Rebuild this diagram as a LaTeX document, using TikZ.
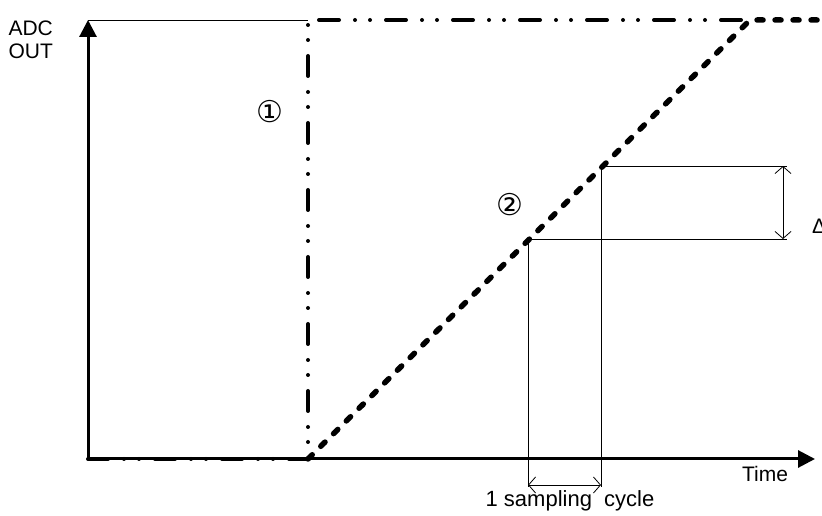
\documentclass[tikz,border=0pt]{standalone}
\usepackage{fontspec}
\setmainfont{Liberation Sans}
\newfontfamily\circfont{DejaVu Sans}
\usetikzlibrary{arrows.meta}
\begin{document}
\begin{tikzpicture}[x=1pt,y=1pt,
  every node/.style={font=\fontsize{21}{24}\selectfont},
  axis/.style={line width=3pt,-{Triangle[length=17pt,width=17pt]}},
  stepline/.style={line width=4pt,line cap=round,
    dash pattern=on 20pt off 16pt on 0pt off 15pt on 0pt off 16pt},
  rampline/.style={line width=5.5pt,line cap=round,dash pattern=on 6pt off 12pt},
  thin/.style={line width=0.8pt},
  dim/.style={line width=0.8pt,{Straight Barb[length=7pt,width=16pt]}-{Straight Barb[length=7pt,width=16pt]}}]
\useasboundingbox (0,0) rectangle (822,516);
% points
\coordinate (o) at (88,57);
\coordinate (ytop) at (88,496);
\coordinate (xend) at (815,57);
\coordinate (t0) at (308,57);
\coordinate (t0top) at (308,496);
\coordinate (full) at (750,496);
\coordinate (rend) at (822,496);
\coordinate (s1) at (528,277);
\coordinate (s2) at (601,350);
% level line and axes
\draw[thin] (ytop) -- (t0top);
\draw[axis] (o) -- (xend);
\draw[axis] (o) -- (ytop);
% signals
\draw[stepline] (o) -- (t0) -- (t0top) -- (full);
\draw[rampline] (t0) -- (full) -- (rend);
% sampling steps
\draw[thin] (s1) -- (787,277);
\draw[thin] (s2) -- (787,350);
\draw[thin] (s1) -- (528,29);
\draw[thin] (s2) -- (601,29);
\draw[dim] (783,350) -- (783,277);
\draw[dim] (528,31) -- (601,31);
% labels
\node[anchor=west] (adc) at (5,488) {ADC};
\node[anchor=west] (out) at (5,465) {OUT};
\node (one) at (270,404) {\circfont\fontsize{30}{32}\selectfont ①};
\node (two) at (510,311) {\circfont\fontsize{30}{32}\selectfont ②};
\node (time) at (765,42) {Time};
\node (cycle) at (570,15) {\fontsize{22}{24}\selectfont 1 sampling\ \ cycle};
\node[anchor=west,inner sep=0pt] (delta) at (812,290) {Δ};
\end{tikzpicture}
\end{document}
